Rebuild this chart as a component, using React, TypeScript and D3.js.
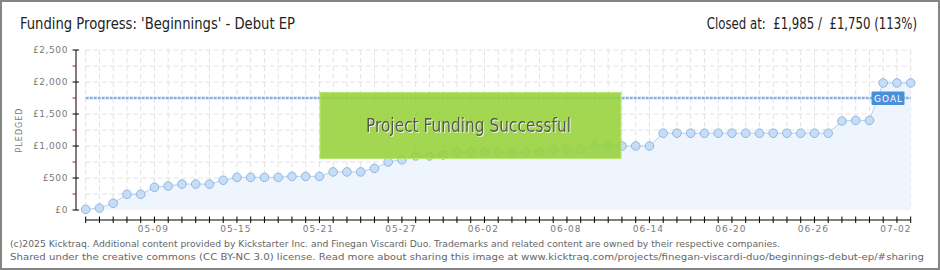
import React from 'react';
import * as d3 from 'd3';

// ---- data ----
const startDay = [2025, 4, 4]; // 2025-05-04 (month 0-based)
const pledged = [
  10, 30, 105, 245, 245, 355, 375, 405, 405, 405,
  465, 510, 510, 510, 510, 525, 525, 525, 595, 595,
  595, 650, 750, 785, 845, 845, 860, 905, 905, 905,
  905, 905, 905, 905, 950, 950, 950, 1000, 1000, 1000,
  1000, 1000, 1200, 1200, 1200, 1200, 1200, 1200, 1200, 1200,
  1200, 1200, 1200, 1200, 1200, 1390, 1400, 1400, 1985, 1985,
  1985,
];
const goal = 1750;
const yMajorTicks = [0, 500, 1000, 1500, 2000, 2500];
const yMinorTicks = [250, 750, 1250, 1750, 2250];
const yGridTicks = [250, 500, 750, 1000, 1250, 1500, 2000, 2250, 2500];
const xLabelEvery = 6;
const xLabelOffset = 5;

const titleText = "Funding Progress: 'Beginnings' - Debut EP";
const statusText = 'Closed at:  £1,985 /  £1,750 (113%)';
const bannerText = 'Project Funding Successful';
const footer1 =
  '(c)2025 Kicktraq. Additional content provided by Kickstarter Inc. and Finegan Viscardi Duo. Trademarks and related content are owned by their respective companies.';
const footer2 =
  'Shared under the creative commons (CC BY-NC 3.0) license. Read more about sharing this image at www.kicktraq.com/projects/finegan-viscardi-duo/beginnings-debut-ep/#sharing';

export default function App() {
  const W = 940;
  const H = 270;
  const dates = pledged.map((_, i) =>
    d3.utcDay.offset(new Date(Date.UTC(startDay[0], startDay[1], startDay[2])), i)
  );
  const x = d3
    .scaleUtc()
    .domain([dates[0], dates[dates.length - 1]])
    .range([85.7, 910.7]);
  const y = d3.scaleLinear().domain([0, 2500]).range([210, 50]);
  const fmt = d3.utcFormat('%m-%d');
  const money = (v: number) => '£' + d3.format(',')(v);

  const pts = pledged.map((v, i) => ({ d: dates[i], v }));
  const line = d3
    .line<{ d: Date; v: number }>()
    .x((p) => x(p.d))
    .y((p) => y(p.v));
  const area = d3
    .area<{ d: Date; v: number }>()
    .x((p) => x(p.d))
    .y0(y(0))
    .y1((p) => y(p.v));

  const [x0, x1] = x.range();
  const axisFont = "'DejaVu Sans', sans-serif";
  const narrow = "'Liberation Sans Narrow', 'DejaVu Sans Condensed', sans-serif";

  return (
    <>
      <style>{`body{margin:0}`}</style>
      <svg width={W} height={H} style={{ display: 'block' }}>
        <defs>
          <filter id="lightShadow" x="-5%" y="-20%" width="110%" height="140%">
            <feDropShadow dx={1} dy={1} stdDeviation={0} floodColor="#ffffff" floodOpacity={0.75} />
          </filter>
        </defs>
        <rect x={1} y={1} width={W - 2} height={H - 2} fill="#fff" stroke="#858585" strokeWidth={2} />

        {/* titles */}
        <text x={20} y={29} fontFamily={narrow} fontSize={16} fill="#222" textLength={275} lengthAdjust="spacingAndGlyphs">
          {titleText}
        </text>
        <text
          transform="translate(917,29) scale(0.817,1)"
          textAnchor="end"
          fontFamily={narrow}
          fontSize={16}
          fill="#222"
          style={{ whiteSpace: 'pre' }}
        >
          {statusText}
        </text>

        {/* grid */}
        {dates.map((d, i) => (
          <line key={'vg' + i} x1={x(d)} x2={x(d)} y1={y(2500)} y2={y(0)} stroke="#e2e2e2" strokeDasharray="5,3" />
        ))}
        {yGridTicks.map((t) => (
          <line key={'hg' + t} x1={x0} x2={x1} y1={y(t)} y2={y(t)} stroke="#e2e2e2" strokeDasharray="5,3" />
        ))}

        {/* area + line */}
        <path d={area(pts) || ''} fill="#eef5fd" />
        <path d={line(pts) || ''} fill="none" stroke="#b4d0f2" strokeWidth={1} />

        {/* goal line */}
        <line x1={x0} x2={x1} y1={y(goal)} y2={y(goal)} stroke="#86b0e4" strokeWidth={2.5} strokeDasharray="3,1" />

        {/* points */}
        {pts.map((p, i) => (
          <circle key={'p' + i} cx={x(p.d)} cy={y(p.v)} r={4.3} fill="#c6ddf7" stroke="#94b6de" strokeWidth={1} />
        ))}

        {/* goal label */}
        <rect x={871.5} y={y(goal) - 6.5} width={33} height={13.5} fill="#4a8fd9" rx={1} />
        <text x={874} y={y(goal) + 3.5} fontFamily={axisFont} fontSize={9} fill="#fff" letterSpacing={1}>
          GOAL
        </text>

        {/* y axis */}
        <line x1={76} x2={76} y1={y(2500)} y2={y(0)} stroke="#000" />
        {yMajorTicks.map((t) => (
          <g key={'yt' + t}>
            <line x1={72.5} x2={79} y1={y(t)} y2={y(t)} stroke="#000" />
            <text x={68} y={y(t) + 3} textAnchor="end" fontFamily={axisFont} fontSize={9} fill="#7a7a7a" letterSpacing={0.6}>
              {money(t)}
            </text>
          </g>
        ))}
        {yMinorTicks.map((t) => (
          <line key={'ym' + t} x1={72.5} x2={76} y1={y(t)} y2={y(t)} stroke="#e00000" />
        ))}
        <text
          transform={`translate(21.5,${(y(0) + y(2500)) / 2}) rotate(-90)`}
          textAnchor="middle"
          fontFamily={axisFont}
          fontSize={8}
          fill="#7a7a7a"
          letterSpacing={1}
        >
          PLEDGED
        </text>

        {/* x axis */}
        <line x1={x0} x2={x1} y1={220} y2={220} stroke="#000" />
        {dates.map((d, i) => (
          <line key={'xt' + i} x1={x(d)} x2={x(d)} y1={216.5} y2={223} stroke="#000" />
        ))}
        {dates.map((d, i) =>
          (i - xLabelOffset) % xLabelEvery === 0 && i >= xLabelOffset ? (
            <text key={'xl' + i} x={x(d) - 1} y={232} textAnchor="middle" fontFamily={axisFont} fontSize={9} fill="#7a7a7a" letterSpacing={1}>
              {fmt(d)}
            </text>
          ) : null
        )}

        {/* success banner */}
        <rect x={320} y={92.5} width={301} height={66} fill="#96d23a" fillOpacity={0.88} stroke="#b8e470" strokeWidth={1} />
        <text x={366} y={132} fontFamily={narrow} fontSize={19} fill="#555" textLength={205} lengthAdjust="spacingAndGlyphs" filter="url(#lightShadow)">
          {bannerText}
        </text>

        {/* footer */}
        <text x={10} y={247} fontFamily={axisFont} fontSize={9} fill="#666" textLength={770} lengthAdjust="spacingAndGlyphs">
          {footer1}
        </text>
        <text x={10} y={260} fontFamily={axisFont} fontSize={9} fill="#666" textLength={914} lengthAdjust="spacingAndGlyphs">
          {footer2}
        </text>
      </svg>
    </>
  );
}
